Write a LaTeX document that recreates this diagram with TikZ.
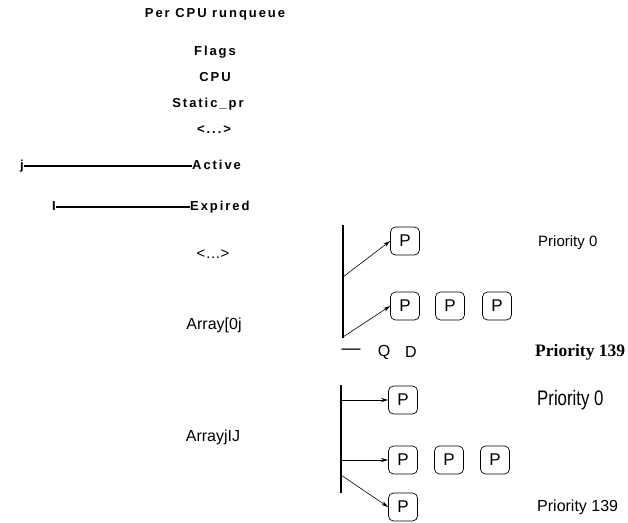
\documentclass[tikz,border=0pt]{standalone}
\usepackage{fontspec}
\setmainfont{Liberation Sans}
\newfontfamily\headfont[LetterSpace=15]{Liberation Sans}
\newfontfamily\timesfont{Liberation Serif}
\usetikzlibrary{arrows.meta}

\begin{document}
\begin{tikzpicture}[x=1pt,y=-1pt,>={Stealth[length=7pt,width=4pt]},
  field/.style={font=\headfont\bfseries\fontsize{13}{15}\selectfont,inner sep=0pt,text height=1.5ex,text depth=.25ex},
  plain/.style={font=\fontsize{16}{18}\selectfont,inner sep=0pt},
  proc/.style={draw,rounded corners=5pt,minimum width=29pt,minimum height=28pt,inner sep=0pt,line width=0.7pt,font=\fontsize{17}{19}\selectfont},
  link/.style={->,line width=0.6pt},
  bar/.style={line width=1.3pt}]
  \useasboundingbox (0,0) rectangle (628,522);

  \node[field] (title) at (215,14) {Per CPU\ runqueue};
  \node[field] (flags) at (215,52) {Flags};
  \node[field] (cpu) at (215,78) {CPU};
  \node[field] (static) at (208,104) {Static\_pr};
  \node[field] (dots1) at (214,130) {<...>};
  \node[field,anchor=west] (active) at (192,166) {Active};
  \node[field] (j) at (22,166) {j};
  \node[field,anchor=west] (expired) at (190,207) {Expired};
  \node[field] (i) at (54,207) {I};
  \draw[line width=1.6pt] (j.east |- active.west) -- (active.west);
  \draw[line width=1.6pt] (i.east |- expired.west) -- (expired.west);

  \node[plain,font=\fontsize{15}{17}\selectfont] (dots2) at (213,254) {<…>};
  \node[plain] (arr0) at (214,325) {Array[0j};
  \node[plain] (arr1) at (213,437) {ArrayjIJ};

  \coordinate (q0top) at (343,225);
  \coordinate (q0bot) at (343,338);
  \coordinate (q0a) at (343,277);
  \coordinate (q0b) at (343,337);
  \draw[bar] (q0top) -- (q0bot);
  \node[proc] (p00) at (405,241) {P};
  \node[proc] (p01a) at (405,306) {P};
  \node[proc] (p01b) at (450,306) {P};
  \node[proc] (p01c) at (497,306) {P};
  \draw[link] (q0a) -- (p00.west);
  \draw[link] (q0b) -- (p01a.west);

  \node[plain,font=\fontsize{19}{21}\selectfont] (dash) at (351,352) {—};
  \node[plain] (qmark) at (384,352) {Q};
  \node[plain] (dmark) at (411,352) {D};

  \coordinate (q1top) at (341,385);
  \coordinate (q1bot) at (341,493);
  \coordinate (q1a) at (341,400);
  \coordinate (q1b) at (341,460);
  \coordinate (q1c) at (341,475);
  \draw[bar] (q1top) -- (q1bot);
  \node[proc] (p10) at (403,400) {P};
  \node[proc] (p11a) at (403,460) {P};
  \node[proc] (p11b) at (449,460) {P};
  \node[proc] (p11c) at (495,460) {P};
  \node[proc] (p12) at (403,507) {P};
  \draw[link] (q1a) -- (p10.west);
  \draw[link] (q1b) -- (p11a.west);
  \draw[link] (q1c) -- (p12.west);

  \node[plain,anchor=west,font=\fontsize{15}{17}\selectfont] (prio0a) at (538,243) {Priority 0};
  \node[plain,anchor=west,font=\timesfont\bfseries\fontsize{17.5}{19}\selectfont] (prio139a) at (535,352) {Priority 139};
  \node[plain,anchor=west] (prio0b) at (537,400) {\scalebox{0.8}[1]{\fontsize{21}{23}\selectfont Priority 0}};
  \node[plain,anchor=west] (prio139b) at (537,507) {Priority 139};
\end{tikzpicture}
\end{document}
